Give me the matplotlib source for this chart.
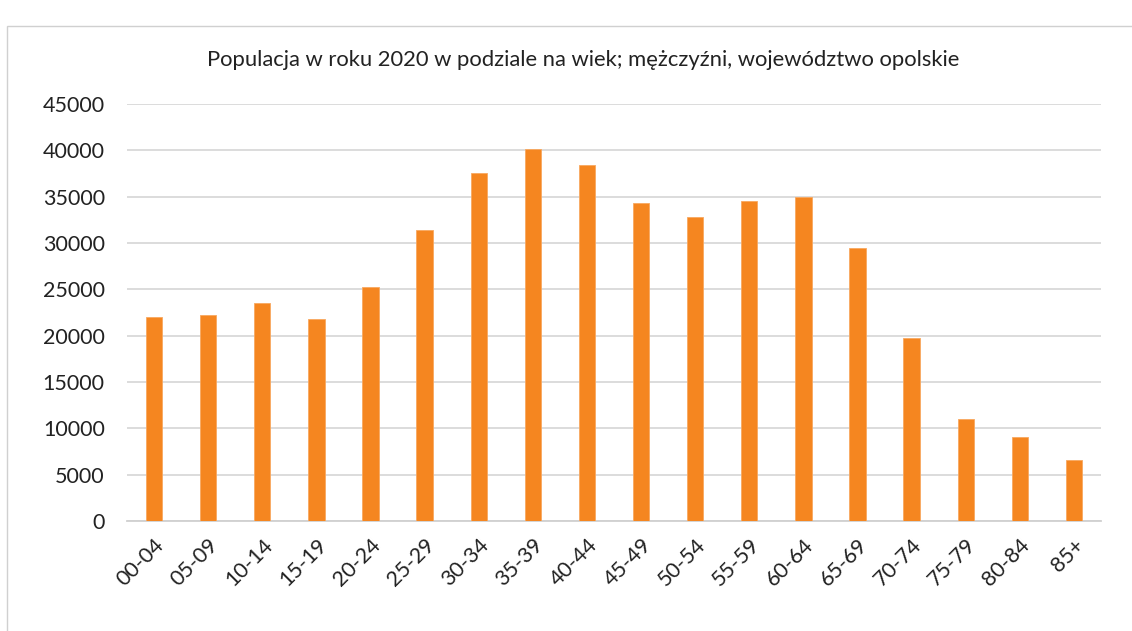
import matplotlib
matplotlib.use("Agg")
import matplotlib.pyplot as plt
from matplotlib.patches import Rectangle

categories = ["00-04", "05-09", "10-14", "15-19", "20-24", "25-29", "30-34", "35-39",
              "40-44", "45-49", "50-54", "55-59", "60-64", "65-69", "70-74", "75-79",
              "80-84", "85+"]
values = [22050, 22250, 23550, 21850, 25250, 31400, 37550, 40100,
          38400, 34350, 32850, 34550, 35000, 29450, 19700, 11000, 9050, 6550]
yticks = [0, 5000, 10000, 15000, 20000, 25000, 30000, 35000, 40000, 45000]
title = "Populacja w roku 2020 w podziale na wiek; mężczyźni, województwo opolskie"

plt.rcParams['font.family'] = ['Lato', 'DejaVu Sans']

fig = plt.figure(figsize=(11.32, 6.31), dpi=100)
fig.patch.set_facecolor('white')
fig.add_artist(Rectangle((7/1132, -0.05), 1.1, 0.05 + 1 - 26/631, transform=fig.transFigure,
                         fill=False, edgecolor='#D0D0D0', linewidth=1.0))

ax = fig.add_axes([127/1132, 1 - 521/631, (1101 - 127)/1132, (521 - 104)/631])
x = list(range(len(categories)))
ax.bar(x, values, width=0.3, color='#F58620', edgecolor='#F8A860', linewidth=0.6, zorder=3)
ax.set_xlim(-0.5, len(categories) - 0.5)
ax.set_ylim(0, 45000)
ax.set_yticks(yticks)
ax.set_yticklabels([str(v) for v in yticks], fontsize=15.5, color='#222222')
ax.set_xticks(x)
ax.set_xticklabels(categories, rotation=45, ha='right', rotation_mode='anchor',
                   fontsize=15.5, color='#222222')
ax.tick_params(axis='y', length=0, pad=16)
ax.tick_params(axis='x', length=0, pad=10)
ax.grid(axis='y', color='#D9D9D9', linewidth=1.3, zorder=0)
for s in ['top', 'right', 'left']:
    ax.spines[s].set_visible(False)
ax.spines['bottom'].set_color('#D0D0D0')
ax.spines['bottom'].set_linewidth(1.3)
ax.set_facecolor('white')

fig.text(583/1132, 1 - 60/631, title, ha='center', va='center', fontsize=15.8, color='#222222')

fig.savefig('out.png', dpi=100)
